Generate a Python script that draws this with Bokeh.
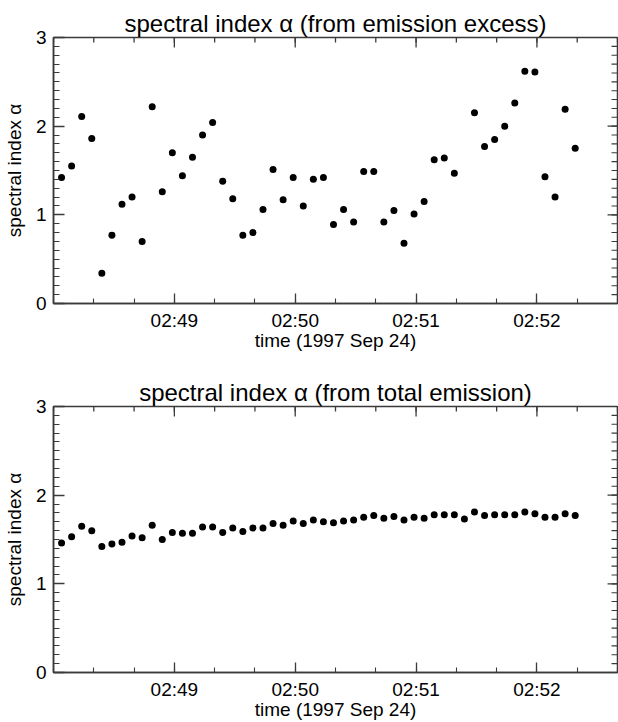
import numpy as np
import pandas as pd
from bokeh.plotting import figure
from bokeh.layouts import column
from bokeh.models import (Range1d, FixedTicker, SingleIntervalTicker,
                          DatetimeTickFormatter, ColumnDataSource)
from bokeh.embed import file_html
from bokeh.resources import INLINE

nan = float("nan")

# ---- data -------------------------------------------------------------
obs_date = "1997-09-24"
sample_start = "02:48:04"      # first sample time
cadence_s = 5                  # sampling cadence (s)
x_start, x_end = "02:48:00", "02:52:40"
major_tick_times = ["02:49", "02:50", "02:51", "02:52"]
minor_tick_step_s = 20
y_major = [0, 1, 2, 3]
y_minor_step = 0.1

titles = ["spectral index \u03b1 (from emission excess)",
          "spectral index \u03b1 (from total emission)"]
y_label = "spectral index \u03b1"
x_label = "time (1997 Sep 24)"

alpha_excess = [1.42, 1.55, 2.11, 1.86, 0.34, 0.77, 1.12, 1.20, 0.70, 2.22,
                1.26, 1.70, 1.44, 1.65, 1.90, 2.04, 1.38, 1.18, 0.77, 0.80,
                1.06, 1.51, 1.17, 1.42, 1.10, 1.40, 1.42, 0.89, 1.06, 0.92,
                1.49, 1.49, 0.92, 1.05, 0.68, 1.01, 1.15, 1.62, 1.64, 1.47,
                nan, 2.15, 1.77, 1.85, 2.00, 2.26, 2.62, 2.61, 1.43, 1.20,
                2.19, 1.75]
alpha_total = [1.46, 1.53, 1.65, 1.60, 1.42, 1.45, 1.47, 1.54, 1.52, 1.66,
               1.50, 1.58, 1.57, 1.57, 1.64, 1.64, 1.58, 1.63, 1.59, 1.63,
               1.63, 1.68, 1.66, 1.71, 1.68, 1.72, 1.70, 1.69, 1.71, 1.72,
               1.75, 1.77, 1.74, 1.76, 1.72, 1.75, 1.74, 1.78, 1.78, 1.78,
               1.73, 1.81, 1.77, 1.78, 1.78, 1.78, 1.81, 1.79, 1.75, 1.75,
               1.79, 1.77]

# ---- helpers ----------------------------------------------------------
times = pd.date_range(start=f"{obs_date} {sample_start}", periods=len(alpha_total),
                      freq=f"{cadence_s}s")
t0 = pd.Timestamp(f"{obs_date} {x_start}")
t1 = pd.Timestamp(f"{obs_date} {x_end}")


def ms(ts):
    return ts.value / 1e6


major_ms = [ms(pd.Timestamp(f"{obs_date} {h}")) for h in major_tick_times]
minor_ms = [ms(t) for t in pd.date_range(t0, t1, freq=f"{minor_tick_step_s}s")]
y_minor = [round(k * y_minor_step, 2) for k in range(int(round(3 / y_minor_step)) + 1)]

FONT = "Liberation Sans"
AX_COL = "#3a3a3a"
W = 618
B_LEFT, B_RIGHT = 51, 1


def style_axis(ax, major_len, minor_len):
    ax.axis_line_color = AX_COL
    ax.axis_line_width = 1.5
    ax.major_tick_line_color = AX_COL
    ax.minor_tick_line_color = AX_COL
    ax.major_tick_line_width = 1.3
    ax.minor_tick_line_width = 1.1
    ax.major_tick_in = major_len
    ax.major_tick_out = 0
    ax.minor_tick_in = minor_len
    ax.minor_tick_out = 0
    ax.major_label_text_font = FONT
    ax.major_label_text_color = "black"
    ax.major_label_text_font_size = "19px"
    ax.axis_label_text_font = FONT
    ax.axis_label_text_font_size = "19px"
    ax.axis_label_text_font_style = "normal"
    ax.axis_label_text_color = "black"


def make_panel(title, values, height, b_top, b_bottom):
    p = figure(width=W, height=height, x_axis_type="datetime",
               x_range=Range1d(t0.to_pydatetime(), t1.to_pydatetime()),
               y_range=Range1d(0, 3),
               output_backend="svg", toolbar_location=None,
               min_border_left=B_LEFT, min_border_right=B_RIGHT,
               min_border_top=b_top, min_border_bottom=b_bottom)
    p.background_fill_color = "white"
    p.border_fill_color = "white"
    p.grid.visible = False
    p.outline_line_color = AX_COL
    p.outline_line_width = 1.5

    p.title.text = title
    p.title.text_font = FONT
    p.title.text_font_size = "24px"
    p.title.text_font_style = "normal"
    p.title.text_color = "black"
    p.title.align = "center"
    p.title.standoff = 2

    fmt = DatetimeTickFormatter(microseconds="%H:%M", milliseconds="%H:%M",
                                seconds="%H:%M", minsec="%H:%M", minutes="%H:%M",
                                hourmin="%H:%M", hours="%H:%M")
    xb = p.xaxis[0]
    xb.ticker = FixedTicker(ticks=major_ms, minor_ticks=minor_ms)
    xb.formatter = fmt
    style_axis(xb, 10, 5)
    xb.major_label_standoff = 6
    xb.axis_label = x_label
    xb.axis_label_standoff = -4

    yl = p.yaxis[0]
    yl.ticker = SingleIntervalTicker(interval=1, num_minor_ticks=10)
    style_axis(yl, 11, 6)
    yl.major_label_standoff = 7
    yl.axis_label = y_label
    yl.axis_label_standoff = 8

    # mirrored inward ticks on the top and right edges of the frame
    frame_h = height - b_top - b_bottom
    frame_w = W - B_LEFT - B_RIGHT
    y_per_px = 3.0 / frame_h
    ms_per_px = (ms(t1) - ms(t0)) / frame_w
    top_x = major_ms + minor_ms
    top_len = [10 * y_per_px] * len(major_ms) + [5 * y_per_px] * len(minor_ms)
    p.segment(x0=top_x, y0=[3.0] * len(top_x), x1=top_x,
              y1=[3.0 - l for l in top_len], line_color=AX_COL, line_width=1.3)
    right_y = y_major + y_minor
    right_len = [10 * ms_per_px] * len(y_major) + [6 * ms_per_px] * len(y_minor)
    xe = ms(t1)
    p.segment(x0=[xe] * len(right_y), y0=right_y, x1=[xe - l for l in right_len],
              y1=right_y, line_color=AX_COL, line_width=1.1)

    src = ColumnDataSource(dict(t=times, a=values))
    p.scatter(x="t", y="a", source=src, size=7, fill_color="black", line_color=None)
    return p


p1 = make_panel(titles[0], alpha_excess, 370, 37, 67)
p2 = make_panel(titles[1], alpha_total, 352, 36, 48)
layout = column(p1, p2, spacing=0)

open("out.html", "w").write(file_html(layout, INLINE))
